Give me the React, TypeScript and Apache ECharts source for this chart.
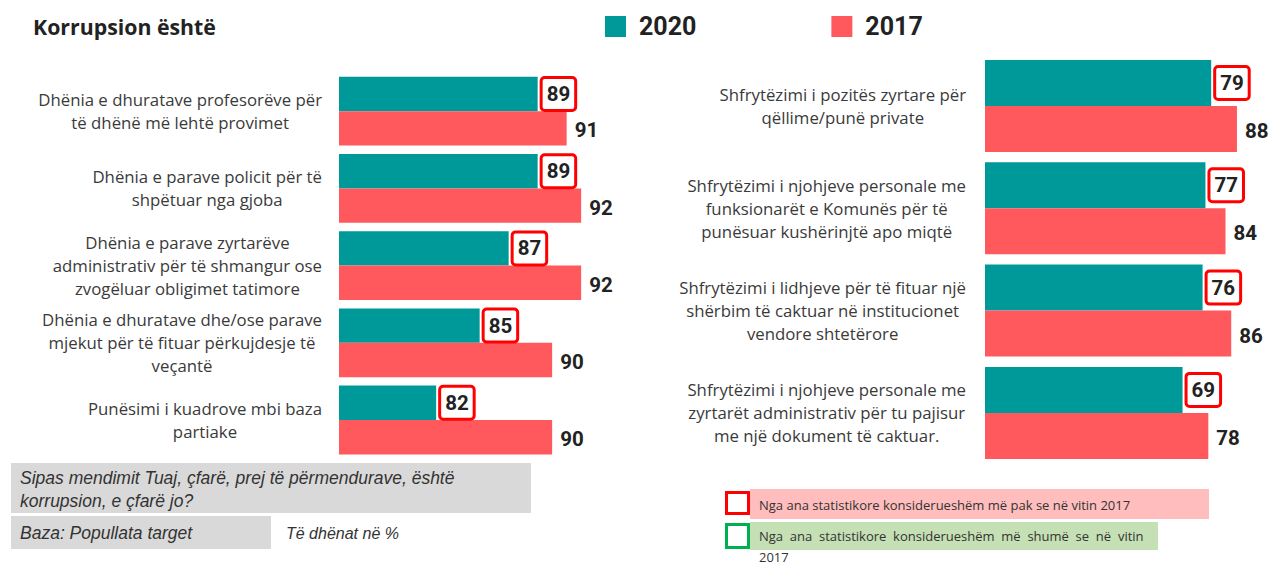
import React, { useEffect, useRef } from 'react';
import * as echarts from 'echarts';

const leftCategories = [
  'Dhënia e dhuratave profesorëve për\ntë dhënë më lehtë provimet',
  'Dhënia e parave policit për të\nshpëtuar nga gjoba',
  'Dhënia e parave zyrtarëve\nadministrativ për të shmangur ose\nzvogëluar obligimet tatimore',
  'Dhënia e dhuratave dhe/ose parave\nmjekut për të fituar përkujdesje të\nveçantë',
  'Punësimi i kuadrove mbi baza\npartiake',
];
const left2020 = [89, 89, 87, 85, 82];
const left2017 = [91, 92, 92, 90, 90];

const rightCategories = [
  'Shfrytëzimi i pozitës zyrtare për\nqëllime/punë private',
  'Shfrytëzimi i njohjeve personale me\nfunksionarët e Komunës për të\npunësuar kushërinjtë apo miqtë',
  'Shfrytëzimi i lidhjeve për të fituar një\nshërbim të caktuar në institucionet\nvendore shtetërore',
  'Shfrytëzimi i njohjeve personale me\nzyrtarët administrativ për tu pajisur\nme një dokument të caktuar.',
];
const right2020 = [79, 77, 76, 69];
const right2017 = [88, 84, 86, 78];

const seriesNames = ['2020', '2017'];

const TEAL = '#009999';
const CORAL = '#FF595E';
const BOXRED = '#FF0000';

export default function App() {
  const ref = useRef<HTMLDivElement>(null);
  useEffect(() => {
    const chart = echarts.init(ref.current!, null, { renderer: 'svg' });
    const catStyle = {
      fontFamily: 'Open Sans',
      fontSize: 16.8,
      color: '#3a3a3a',
      lineHeight: 23,
      align: 'center',
    };
    const fmt = (v: string) => v.split('\n').map((l) => `{c|${l}}`).join('\n');
    const boxLabel = () => ({
      show: true,
      position: 'right',
      distance: 5,
      backgroundColor: '#fff',
      borderColor: BOXRED,
      borderWidth: 3,
      borderRadius: 2,
      padding: [7, 4, 6, 4],
      lineHeight: 17,
      fontFamily: 'Roboto',
      fontWeight: 'bold',
      fontSize: 20.5,
      color: '#222',
    });
    const plainLabel = () => ({
      show: true,
      position: 'right',
      distance: 8,
      offset: [0, 2],
      fontFamily: 'Roboto',
      fontWeight: 'bold',
      fontSize: 20.5,
      color: '#222',
    });
    const catAxis = (gridIndex: number, data: string[], margin: number) => ({
      gridIndex,
      type: 'category',
      data,
      inverse: true,
      axisLine: { show: false },
      axisTick: { show: false },
      splitLine: { show: false },
      axisLabel: {
        margin,
        formatter: fmt,
        rich: { c: catStyle },
      },
    });
    const option: any = {
      animation: false,
      legend: {
        data: seriesNames,
        left: 605,
        top: 14,
        padding: 0,
        icon: 'rect',
        itemWidth: 21,
        itemHeight: 21,
        itemGap: 135,
        selectedMode: false,
        textStyle: {
          fontFamily: 'Roboto',
          fontWeight: 'bold',
          fontSize: 25,
          color: '#222',
          padding: [0, 0, 0, 8],
        },
      },
      grid: [
        { left: 339, top: 72.6, width: 290, height: 386 },
        { left: 985, top: 54.85, width: 272, height: 409.2 },
      ],
      xAxis: [
        { gridIndex: 0, type: 'value', min: 75.3, max: 95.3, show: false },
        { gridIndex: 1, type: 'value', min: 0, max: 95, show: false },
      ],
      yAxis: [catAxis(0, leftCategories, 17), catAxis(1, rightCategories, 19)],
      series: [
        {
          name: seriesNames[0], type: 'bar', xAxisIndex: 0, yAxisIndex: 0,
          data: left2020, barWidth: 34.4, barGap: '0%',
          itemStyle: { color: TEAL }, label: boxLabel(),
        },
        {
          name: seriesNames[1], type: 'bar', xAxisIndex: 0, yAxisIndex: 0,
          data: left2017, barWidth: 34.4, barGap: '0%',
          itemStyle: { color: CORAL }, label: plainLabel(),
        },
        {
          name: seriesNames[0], type: 'bar', xAxisIndex: 1, yAxisIndex: 1,
          data: right2020, barWidth: 46, barGap: '0%',
          itemStyle: { color: TEAL }, label: boxLabel(),
        },
        {
          name: seriesNames[1], type: 'bar', xAxisIndex: 1, yAxisIndex: 1,
          data: right2017, barWidth: 46, barGap: '0%',
          itemStyle: { color: CORAL }, label: plainLabel(),
        },
      ],
      graphic: [
        {
          type: 'text', x: 33, y: 26,
          style: { text: 'Korrupsion është', font: 'bold 21.3px "Open Sans"', fill: '#222', verticalAlign: 'middle' },
        },
        { type: 'rect', shape: { x: 11, y: 463, width: 520, height: 50 }, style: { fill: '#D9D9D9' } },
        {
          type: 'text', x: 20, y: 466.5,
          style: {
            text: 'Sipas mendimit Tuaj, çfarë, prej të përmendurave, është\nkorrupsion, e çfarë jo?',
            font: 'italic 17.5px "Liberation Sans"', lineHeight: 23, fill: '#333',
          },
        },
        { type: 'rect', shape: { x: 11, y: 516, width: 260, height: 33 }, style: { fill: '#D9D9D9' } },
        {
          type: 'text', x: 20, y: 533,
          style: { text: 'Baza: Popullata target', font: 'italic 17.5px "Liberation Sans"', fill: '#333', verticalAlign: 'middle' },
        },
        {
          type: 'text', x: 286, y: 533,
          style: { text: 'Të dhënat në %', font: 'italic 16px "Liberation Sans"', fill: '#333', verticalAlign: 'middle' },
        },
        { type: 'rect', shape: { x: 750, y: 489, width: 459, height: 30 }, style: { fill: '#FFBDBD' } },
        {
          type: 'rect', shape: { x: 726.5, y: 492.5, width: 22, height: 21 },
          style: { fill: '#fff', stroke: BOXRED, lineWidth: 3 },
        },
        {
          type: 'text', x: 759, y: 505,
          style: { text: 'Nga ana statistikore konsiderueshëm më pak se në vitin 2017', font: '13px "Open Sans"', fill: '#333', verticalAlign: 'middle' },
        },
        { type: 'rect', shape: { x: 750, y: 522, width: 408, height: 28 }, style: { fill: '#C5E0B4' } },
        {
          type: 'rect', shape: { x: 726.5, y: 524.5, width: 22, height: 23 },
          style: { fill: '#fff', stroke: '#00B050', lineWidth: 3 },
        },
        {
          type: 'text', x: 759, y: 536,
          style: { text: 'Nga  ana  statistikore  konsiderueshëm  më  shumë  se  në  vitin', font: '13px "Open Sans"', fill: '#333', verticalAlign: 'middle' },
        },
        {
          type: 'text', x: 759, y: 556.5,
          style: { text: '2017', font: '13px "Open Sans"', fill: '#333', verticalAlign: 'middle' },
        },
      ],
    };
    chart.setOption(option);
    return () => chart.dispose();
  }, []);
  return (
    <div
      ref={ref}
      style={{ position: 'fixed', left: 0, top: 0, width: 1269, height: 564, background: '#fff' }}
    />
  );
}
